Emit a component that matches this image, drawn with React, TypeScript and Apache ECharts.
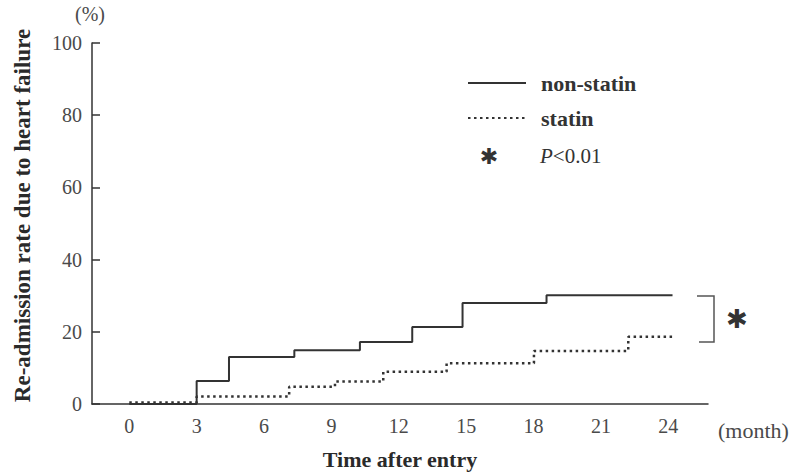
import React, { useEffect, useRef } from "react";
import * as echarts from "echarts";

// months after entry (event times) and cumulative re-admission rate (%)
const nonStatinMonths = [0, 3, 4.44, 7.35, 10.27, 12.6, 14.84, 18.58, 24.19];
const nonStatinRates = [0, 6.4, 13.0, 14.9, 17.2, 21.3, 28.0, 30.1, 30.1];
const statinMonths = [0, 3, 7.12, 9.16, 11.31, 14.13, 18.02, 22.22, 24.3];
const statinRates = [0.4, 2.1, 4.8, 6.2, 8.9, 11.3, 14.7, 18.6, 18.6];
const xTickLabels = [0, 3, 6, 9, 12, 15, 18, 21, 24];
const yTickLabels = [0, 20, 40, 60, 80, 100];
const seriesNames = ["non-statin", "statin"];

const SERIF = "'Liberation Serif', 'Times New Roman', serif";

export default function App() {
  const ref = useRef<HTMLDivElement>(null);
  useEffect(() => {
    if (!ref.current) return;
    const chart = echarts.init(ref.current, undefined, { renderer: "svg" });
    const toPairs = (xs: number[], ys: number[]) => xs.map((x, i) => [x, ys[i]]);
    chart.setOption({
      animation: false,
      backgroundColor: "#ffffff",
      grid: { left: 92, right: 85, top: 43, bottom: 68.3 },
      legend: {
        orient: "vertical",
        left: 462,
        top: 67,
        itemWidth: 58,
        itemHeight: 14,
        itemGap: 13,
        data: seriesNames,
        itemStyle: { opacity: 0 },
        textStyle: {
          fontFamily: SERIF,
          fontSize: 22,
          fontWeight: "bold",
          color: "#333",
          padding: [0, 0, 0, 10],
          lineHeight: 22,
        },
      },
      xAxis: {
        type: "value",
        min: -1.66,
        max: 25.77,
        splitLine: { show: false },
        axisLine: { show: true, onZero: false, lineStyle: { color: "#333", width: 1.5 } },
        axisTick: { show: false },
        axisLabel: {
          customValues: xTickLabels,
          margin: 12,
          fontFamily: SERIF,
          fontSize: 20,
          color: "#4a4a4a",
        },
        name: "Time after entry",
        nameLocation: "middle",
        nameGap: 44,
        nameTextStyle: { fontFamily: SERIF, fontSize: 22, fontWeight: "bold", color: "#2a2a2a" },
      },
      yAxis: {
        type: "value",
        min: 0,
        max: 100,
        interval: 20,
        splitLine: { show: false },
        axisLine: { show: true, onZero: false, lineStyle: { color: "#333", width: 1.5 } },
        axisTick: { show: true, inside: true, length: 8, lineStyle: { color: "#333", width: 1.5 } },
        axisLabel: {
          margin: 10,
          fontFamily: SERIF,
          fontSize: 20,
          color: "#4a4a4a",
          formatter: (v: number) => (yTickLabels.includes(v) ? String(v) : ""),
        },
        name: "Re-admission rate due to heart failure",
        nameLocation: "middle",
        nameGap: 58,
        nameTextStyle: {
          fontFamily: SERIF,
          fontSize: 23,
          fontWeight: "bold",
          color: "#2a2a2a",
          padding: [0, 0, 0, 16],
        },
      },
      series: [
        {
          name: seriesNames[0],
          type: "line",
          step: "end",
          symbol: "none",
          data: toPairs(nonStatinMonths, nonStatinRates),
          lineStyle: { color: "#333", width: 2 },
          itemStyle: { color: "#333" },
        },
        {
          name: seriesNames[1],
          type: "line",
          step: "end",
          symbol: "none",
          data: toPairs(statinMonths, statinRates),
          lineStyle: { color: "#333", width: 2.5, type: [2.5, 3.5] },
          itemStyle: { color: "#333" },
        },
      ],
      graphic: [
        {
          type: "text",
          left: 75,
          top: 4,
          style: { text: "(%)", font: `20px ${SERIF}`, fill: "#4a4a4a" },
        },
        {
          type: "text",
          left: 718,
          top: 419,
          style: { text: "(month)", font: `22px ${SERIF}`, fill: "#4a4a4a" },
        },
        {
          type: "text",
          x: 489,
          y: 156,
          style: {
            text: "✱",
            font: `22px 'DejaVu Sans'`,
            fill: "#333",
            align: "center",
            verticalAlign: "middle",
          },
        },
        {
          type: "text",
          x: 540,
          y: 156,
          style: {
            text: "{i|P}<0.01",
            font: `21px ${SERIF}`,
            fill: "#333",
            verticalAlign: "middle",
            rich: {
              i: { fontStyle: "italic", fontFamily: SERIF, fontSize: 21, fill: "#333" },
            },
          },
        },
        {
          type: "polyline",
          shape: { points: [[697, 296], [714, 296], [714, 342], [699, 342]] },
          style: { stroke: "#555", lineWidth: 1.5, fill: "none" },
        },
        {
          type: "text",
          x: 737,
          y: 319,
          style: {
            text: "✱",
            font: `26px 'DejaVu Sans'`,
            fill: "#333",
            align: "center",
            verticalAlign: "middle",
          },
        },
      ],
    });
    return () => chart.dispose();
  }, []);
  return (
    <div
      ref={ref}
      style={{ position: "fixed", left: 0, top: 0, width: 793, height: 475, background: "#fff" }}
    />
  );
}
